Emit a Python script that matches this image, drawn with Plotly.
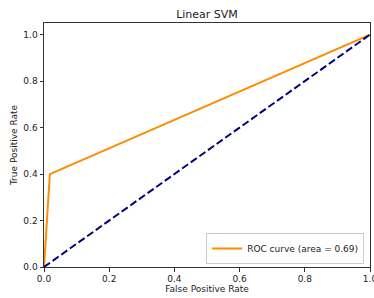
import plotly.graph_objects as go

fpr = [0.0, 0.018, 1.0]
tpr = [0.0, 0.40, 1.0]
diag_x = [0.0, 1.0]
diag_y = [0.0, 1.0]
auc = 0.69
x_ticks = [0.0, 0.2, 0.4, 0.6, 0.8, 1.0]
y_ticks = [0.0, 0.2, 0.4, 0.6, 0.8, 1.0]
tick_text = ["0.0", "0.2", "0.4", "0.6", "0.8", "1.0"]

fig = go.Figure()
fig.add_trace(go.Scatter(x=fpr, y=tpr, mode="lines",
                         line=dict(color="darkorange", width=2),
                         name=f"ROC curve (area = {auc:.2f})"))
fig.add_trace(go.Scatter(x=diag_x, y=diag_y, mode="lines",
                         line=dict(color="navy", width=2, dash="7.4px,3.2px"),
                         showlegend=False))

axis_common = dict(showgrid=False, zeroline=False, showline=True, mirror=True,
                   automargin=False,
                   linecolor="#333", linewidth=1, ticks="outside", ticklen=3.5,
                   tickcolor="#333", tickfont=dict(size=9, color="#222"))
fig.update_layout(
    width=374, height=298,
    margin=dict(l=44, r=4, t=23, b=31),
    paper_bgcolor="white", plot_bgcolor="white",
    font=dict(family="DejaVu Sans", color="#222"),
    title=dict(text="Linear SVM", x=0.5535, xanchor="center", y=0.953, yanchor="middle",
               font=dict(size=11), automargin=False),
    xaxis=dict(range=[0, 1], tickvals=x_ticks, ticktext=tick_text,
               ticklabeloverflow="allow",
               title=dict(text="False Positive Rate", font=dict(size=9), standoff=2),
               **axis_common),
    yaxis=dict(range=[0, 1.05], tickvals=y_ticks, ticktext=tick_text,
               title=dict(text="True Positive Rate", font=dict(size=9), standoff=4),
               **axis_common),
    legend=dict(x=0.982, y=0.012, xanchor="right", yanchor="bottom",
                bgcolor="rgba(255,255,255,0.8)", bordercolor="#ccc", borderwidth=1,
                itemwidth=30, font=dict(size=9)),
    showlegend=True,
)
fig.write_html("out.html", config={"displayModeBar": False},
               post_script="document.body.style.margin='0';document.body.style.overflow='hidden';")
